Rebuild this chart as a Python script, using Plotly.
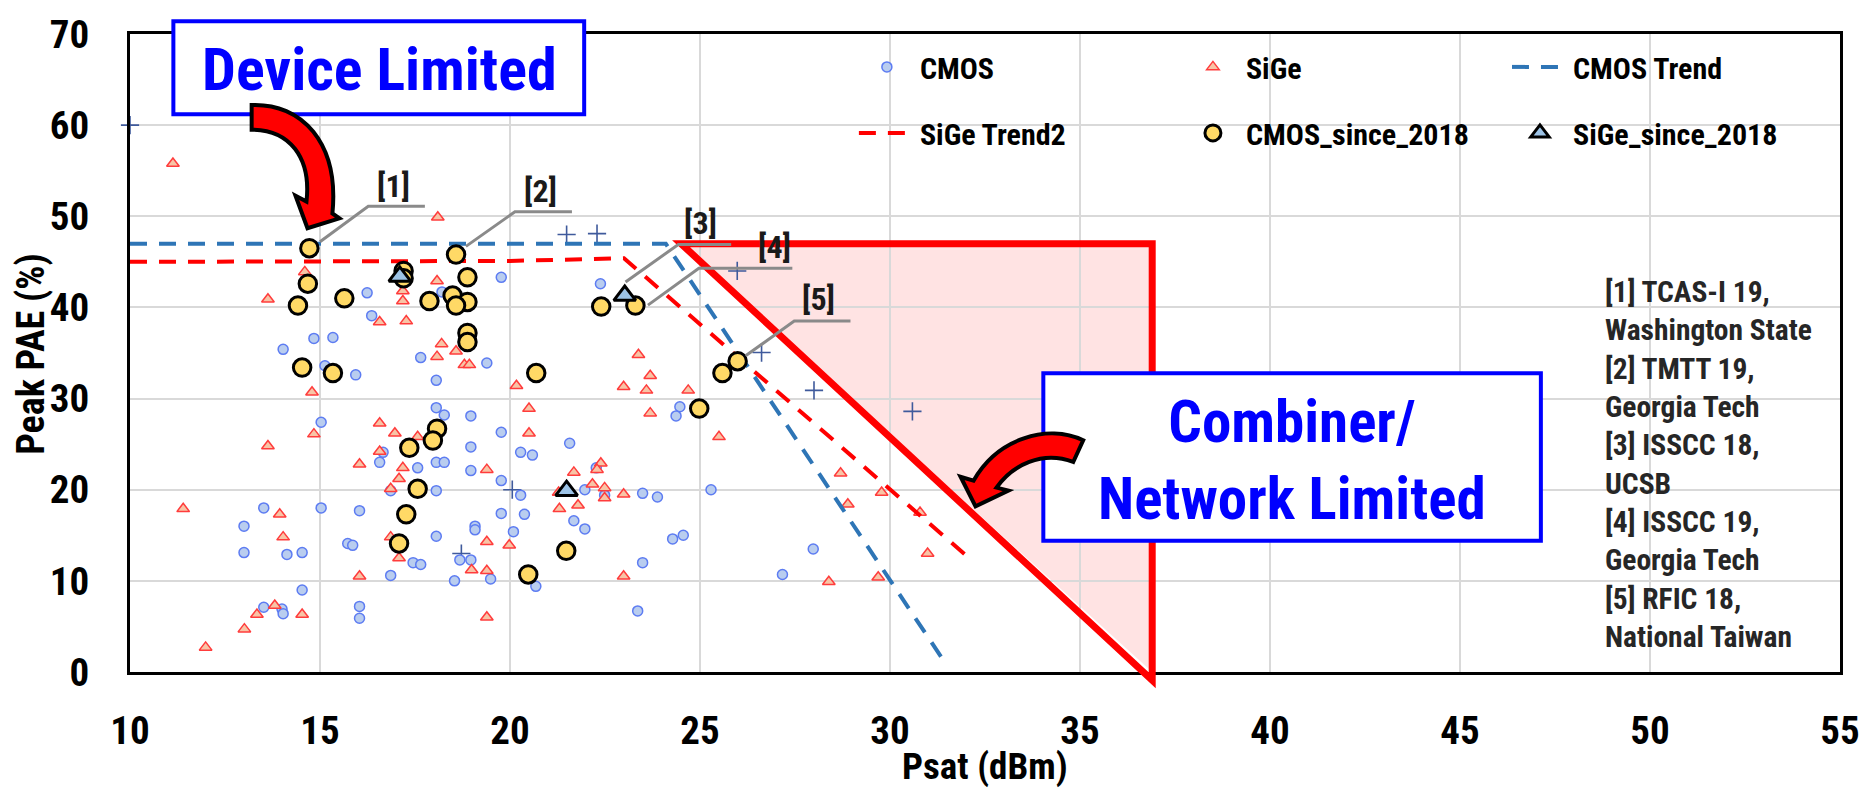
import plotly.graph_objects as go

# ---------------- data ----------------
cmos_x = [14.03, 15.13, 15.94, 17.65, 18.06, 18.06, 18.27, 15.03, 16.66, 16.57,
          17.57, 18.06, 18.27, 16.86, 18.06, 13.52, 15.03, 16.04, 13.0, 15.73,
          15.86, 18.06, 13.0, 14.13, 14.53, 17.45, 17.65, 16.86, 18.54, 14.53,
          13.52, 14.0, 14.03, 16.04, 16.04, 16.24, 16.36, 18.21, 14.84, 15.34,
          19.77, 22.38, 19.39, 18.97, 19.77, 18.97, 20.28, 20.59, 21.57, 18.97,
          19.77, 20.28, 22.27, 21.97, 22.49, 23.49, 23.88, 25.29, 19.77, 20.38,
          21.68, 21.97, 19.08, 19.08, 20.09, 18.68, 18.97, 19.49, 20.68, 24.28,
          24.56, 23.49, 23.36, 24.47, 24.37, 27.17, 27.98]
cmos_y = [35.4, 33.6, 32.6, 34.5, 32.0, 29.0, 28.2, 27.4, 24.1, 23.0,
          22.4, 23.0, 23.0, 19.9, 19.9, 18.0, 18.0, 17.7, 16.0, 14.1,
          13.9, 14.9, 13.1, 12.9, 13.1, 12.0, 11.8, 10.6, 10.0, 9.0,
          7.1, 6.9, 6.4, 7.2, 5.9, 41.6, 39.1, 41.7, 36.6, 36.7,
          43.3, 42.6, 33.9, 28.1, 26.3, 24.7, 24.1, 23.8, 25.1, 22.1,
          21.0, 19.4, 22.4, 20.0, 19.4, 19.6, 19.2, 20.0, 17.4, 17.3,
          16.6, 15.7, 16.0, 15.6, 15.4, 12.3, 12.3, 10.2, 9.4, 14.6,
          15.0, 12.0, 6.7, 29.1, 28.1, 10.7, 13.5]

sige_x = [11.13, 18.1, 14.6, 13.63, 16.57, 17.27, 17.18, 17.18, 18.08, 18.2,
          18.08, 18.58, 18.8, 18.93, 14.79, 16.57, 14.84, 13.63, 16.97, 17.57,
          16.57, 16.04, 17.18, 17.08, 16.86, 11.4, 13.94, 14.03, 16.86, 17.08,
          16.04, 13.81, 13.34, 14.53, 13.01, 11.99, 20.17, 20.5, 20.5, 19.39,
          21.68, 22.39, 22.29, 22.17, 22.49, 22.49, 22.99, 21.3, 21.79, 21.28,
          19.39, 19.98, 18.99, 19.39, 19.39, 22.99, 23.38, 23.69, 22.99, 23.59,
          24.69, 23.69, 25.5, 28.7, 29.78, 28.89, 30.79, 30.99, 28.39, 29.69,
          21.48]
sige_y = [55.8, 49.9, 43.9, 40.9, 38.4, 38.5, 40.7, 41.8, 42.9, 36.0,
          34.6, 35.2, 33.7, 33.7, 30.7, 27.3, 26.1, 24.8, 26.2, 25.8,
          24.2, 22.8, 22.4, 21.2, 20.1, 17.9, 17.3, 14.8, 14.8, 12.5,
          10.5, 7.3, 6.3, 6.3, 4.7, 2.7, 31.4, 28.9, 26.2, 22.2,
          21.9, 22.9, 22.2, 20.6, 20.2, 19.1, 19.5, 17.9, 18.3, 19.7,
          14.3, 13.9, 11.2, 11.1, 6.0, 10.5, 34.8, 32.5, 31.3, 30.9,
          30.9, 28.4, 25.8, 21.8, 19.7, 18.4, 17.5, 13.0, 9.9, 10.4,
          12.8]

other_x = [10.0, 21.49, 22.29, 25.98, 26.62, 28.0, 30.59, 20.06, 18.72]
other_y = [60.0, 48.0, 48.1, 44.0, 35.05, 30.9, 28.6, 20.0, 13.0]

cmos_trend_x = [10.0, 24.1, 31.5]
cmos_trend_y = [47.0, 47.0, 0.7]
sige_trend_x = [10.0, 20.0, 23.0, 32.0]
sige_trend_y = [45.0, 45.1, 45.4, 12.8]

cmos18_x = [14.72, 14.68, 14.42, 15.64, 17.2, 17.2, 17.88, 18.58, 18.88, 18.49,
            18.88, 18.58, 18.88, 18.88, 22.4, 23.3, 14.53, 15.34, 18.08, 17.97,
            17.35, 17.57, 17.27, 17.08, 20.69, 24.98, 25.59, 25.99, 21.48, 20.48]
cmos18_y = [46.5, 42.6, 40.2, 41.0, 44.0, 43.2, 40.7, 45.8, 43.3, 41.3,
            40.6, 40.2, 37.2, 36.2, 40.1, 40.2, 33.4, 32.8, 26.7, 25.4,
            24.6, 20.1, 17.3, 14.1, 32.8, 28.9, 32.8, 34.1, 13.3, 10.7]

sige18_x = [17.1, 23.02, 21.49]
sige18_y = [43.4, 41.3, 19.9]

# limit region (Psat, PAE) corners
region_x = [24.5, 36.9, 36.9]
region_y = [47.0, 47.0, -0.9]

# callouts: label, label position, leader polyline
ref_labels = ["[1]", "[2]", "[3]", "[4]", "[5]"]
ref_label_x = [16.93, 20.8, 25.0, 26.95, 28.12]
ref_label_y = [53.3, 52.8, 49.3, 46.6, 40.9]
leader_x = [[15.0, 16.27, 17.76], [18.84, 20.13, 21.63], [23.04, 24.43, 25.82],
            [23.63, 24.97, 27.43], [26.2, 27.48, 28.96]]
leader_y = [[47.2, 51.1, 51.1], [46.7, 50.5, 50.5], [42.8, 46.9, 46.9],
            [40.25, 44.3, 44.3], [34.7, 38.5, 38.5]]

refs_text = ("[1] TCAS-I 19,<br>Washington State<br>[2] TMTT 19,<br>Georgia Tech<br>"
             "[3] ISSCC 18,<br>UCSB<br>[4] ISSCC 19,<br>Georgia Tech<br>"
             "[5] RFIC 18,<br>National Taiwan")

x_ticks = [10, 15, 20, 25, 30, 35, 40, 45, 50, 55]
y_ticks = [0, 10, 20, 30, 40, 50, 60, 70]

# ---------------- layout geometry ----------------
W, H = 1872, 794
ML, MR, MT, MB = 130, 27, 25, 122
PW, PH = W - ML - MR, H - MT - MB
XR, YR = [10, 55], [0, 70]

FONT = "Roboto Condensed, Arial Narrow, Liberation Sans Narrow, Arial"


def px(x, y):
    """pixel position on the page -> paper coordinates"""
    return (x - ML) / PW, 1 - (y - MT) / PH


def dp(x, y):
    """data coordinates -> paper coordinates"""
    return (x - XR[0]) / (XR[1] - XR[0]), (y - YR[0]) / (YR[1] - YR[0])


def path_px(cmds):
    out = []
    for c in cmds:
        if isinstance(c, str):
            out.append(c)
        else:
            a, b = px(*c)
            out.append(f"{a:.5f},{b:.5f}")
    return " ".join(out)


fig = go.Figure()

fig.add_trace(go.Scatter(
    x=other_x, y=other_y, mode="markers", name="Other", showlegend=False,
    cliponaxis=False,
    marker=dict(symbol="cross-thin", size=13, line=dict(color="#3f5a9c", width=1.6))))

fig.add_trace(go.Scatter(
    x=cmos_x, y=cmos_y, mode="markers", name="CMOS", legend="legend",
    legendgroup="a",
    marker=dict(symbol="circle", size=10, color="#b9cdef",
                line=dict(color="#5d7cf2", width=1.5))))

fig.add_trace(go.Scatter(
    x=sige_x, y=sige_y, mode="markers", name="SiGe", legend="legend2",
    legendgroup="b",
    marker=dict(symbol="triangle-up", size=11, color="#f8c4a6",
                line=dict(color="#ff3c3c", width=1.5))))

fig.add_trace(go.Scatter(
    x=cmos_trend_x, y=cmos_trend_y, mode="lines", name="CMOS Trend", legend="legend3",
    legendgroup="c",
    line=dict(color="#2e75b6", width=4, dash="17px,12px")))

fig.add_trace(go.Scatter(
    x=sige_trend_x, y=sige_trend_y, mode="lines", name="SiGe Trend2", legend="legend",
    legendgroup="d",
    line=dict(color="#ff0000", width=4, dash="17px,12px")))

fig.add_trace(go.Scatter(
    x=cmos18_x, y=cmos18_y, mode="markers", name="CMOS_since_2018", legend="legend2",
    legendgroup="e",
    marker=dict(symbol="circle", size=17.5, color="#ffd966",
                line=dict(color="#000000", width=3))))

fig.add_trace(go.Scatter(
    x=sige18_x, y=sige18_y, mode="markers", name="SiGe_since_2018", legend="legend3",
    legendgroup="f",
    marker=dict(symbol="triangle-up", size=19, color="#9dc3e6",
                line=dict(color="#000000", width=3))))

shapes = []

# shaded limit region (under the grid) and its outline
rx = list(region_x) + [region_x[0]]
ry = list(region_y) + [region_y[0]]
shapes.append(dict(
    type="path", xref="x", yref="y", layer="below",
    path="M " + " L ".join(f"{a},{max(b, 0)}" for a, b in zip(region_x, region_y)) + " Z",
    fillcolor="rgba(255,0,0,0.11)", line=dict(width=0)))
pts = [dp(a, b) for a, b in zip(rx, ry)]
shapes.append(dict(
    type="path", xref="paper", yref="paper", layer="above",
    path="M " + " L ".join(f"{a:.5f},{b:.5f}" for a, b in pts) + " Z",
    fillcolor="rgba(0,0,0,0)", line=dict(color="#ff0000", width=7)))

# leader lines of the callouts
for lx, ly in zip(leader_x, leader_y):
    shapes.append(dict(
        type="path", xref="x", yref="y", layer="above",
        path="M " + " L ".join(f"{a},{b}" for a, b in zip(lx, ly)),
        line=dict(color="#8a8a8a", width=3)))

# text boxes
b1 = px(173.5, 12) + px(585.5, 106.5)
shapes.append(dict(type="rect", xref="paper", yref="paper", layer="above",
                   x0=b1[0], y0=b1[1], x1=b1[2], y1=b1[3],
                   fillcolor="white", line=dict(color="#0000ff", width=4)))
b2 = px(1046, 369) + px(1545, 539)
shapes.append(dict(type="rect", xref="paper", yref="paper", layer="above",
                   x0=b2[0], y0=b2[1], x1=b2[2], y1=b2[3],
                   fillcolor="white", line=dict(color="#0000ff", width=4)))

# curved block arrows
arrow1 = ["M", (252, 97), "C", (302, 95), (340, 135), (333, 207), "L", (340, 212),
          "L", (308, 222), "L", (296, 189), "L", (307, 195), "C", (312, 150), (290, 122),
          (252, 122), "Z"]
arrow2 = ["M", (1086, 437), "C", (1050, 420), (1000, 435), (976, 478), "L", (963, 474),
          "L", (978, 504), "L", (1011, 488), "L", (999, 485), "C", (1015, 462), (1045, 447),
          (1076, 459), "Z"]
for a in (arrow1, arrow2):
    shapes.append(dict(type="path", xref="paper", yref="paper", layer="above",
                       path=path_px(a), fillcolor="#ff0000",
                       line=dict(color="#000000", width=4)))

annotations = []
cx, cy = px(380, 61)
annotations.append(dict(xref="paper", yref="paper", x=cx, y=cy, xanchor="center",
                        yanchor="middle", showarrow=False, text="Device Limited",
                        font=dict(family=FONT, size=60, color="#0000ff", weight="bold")))
cx, cy = px(1295, 457)
annotations.append(dict(xref="paper", yref="paper", x=cx, y=cy, xanchor="center",
                        yanchor="middle", showarrow=False, align="center",
                        text="Combiner/<br>Network Limited",
                        font=dict(family=FONT, size=59, color="#0000ff", weight="bold")))
for t, lx, ly in zip(ref_labels, ref_label_x, ref_label_y):
    annotations.append(dict(xref="x", yref="y", x=lx, y=ly, showarrow=False, text=t,
                            font=dict(family=FONT, size=32, color="#1a1a1a", weight="bold")))
cx, cy = px(1607, 462)
annotations.append(dict(xref="paper", yref="paper", x=cx, y=cy, xanchor="left",
                        yanchor="middle", showarrow=False, align="left", text=refs_text,
                        font=dict(family=FONT, size=29.5, color="#262626", weight="bold")))
# axis titles
cx, cy = px(988, 768)
annotations.append(dict(xref="paper", yref="paper", x=cx, y=cy, xanchor="center",
                        yanchor="middle", showarrow=False, text="Psat (dBm)", borderpad=0,
                        font=dict(family=FONT, size=37, color="#000000", weight="bold")))
cx, cy = px(31, 349)
annotations.append(dict(xref="paper", yref="paper", x=cx, y=cy, xanchor="center",
                        yanchor="middle", showarrow=False, text="Peak PAE (%)", textangle=-90,
                        font=dict(family=FONT, size=38, color="#000000", weight="bold")))

legend_common = dict(orientation="v", bgcolor="rgba(0,0,0,0)", borderwidth=0,
                     itemwidth=56, tracegroupgap=24, yanchor="top", xanchor="left",
                     font=dict(family=FONT, size=30, color="#000000", weight="bold"))
lx1, ly = px(856, 32)
lx2, _ = px(1183, 32)
lx3, _ = px(1511, 32)

fig.update_layout(
    width=W, height=H,
    margin=dict(l=ML, r=MR, t=MT, b=MB),
    paper_bgcolor="white", plot_bgcolor="white",
    shapes=shapes, annotations=annotations,
    legend=dict(x=lx1, y=ly, **legend_common),
    legend2=dict(x=lx2, y=ly, **legend_common),
    legend3=dict(x=lx3, y=ly, **legend_common),
    xaxis=dict(range=XR, tickvals=x_ticks, showgrid=True, gridcolor="#d9d9d9", gridwidth=2,
               showline=True, linecolor="#000000", linewidth=3, mirror=True, zeroline=False,
               ticks="", ticklabelstandoff=22,
               tickfont=dict(family=FONT, size=39, color="#000000", weight="bold")),
    yaxis=dict(range=YR, tickvals=y_ticks, showgrid=True, gridcolor="#d9d9d9", gridwidth=2,
               showline=True, linecolor="#000000", linewidth=3, mirror=True, zeroline=False,
               ticks="", ticklabelstandoff=30,
               tickfont=dict(family=FONT, size=39, color="#000000", weight="bold")),
)

fig.write_html("out.html")
